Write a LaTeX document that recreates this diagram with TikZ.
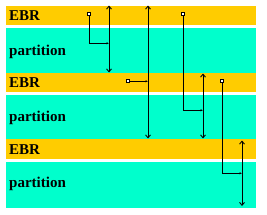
\documentclass[tikz,border=0pt]{standalone}
\usepackage{fontspec}
\setmainfont{Liberation Serif}
\usetikzlibrary{arrows.meta}
\definecolor{ebrc}{RGB}{255,204,0}
\definecolor{partc}{RGB}{0,255,204}
\tikzset{
  band/.style={anchor=north west, inner sep=0pt, minimum width=250pt},
  ebrband/.style={band, fill=ebrc, minimum height=19pt},
  partband/.style={band, fill=partc},
  lbl/.style={anchor=base west, inner sep=0pt, font=\fontsize{15}{15}\selectfont\bfseries},
  sq/.style={draw, line width=0.8pt, inner sep=0pt, minimum size=3pt, fill=white},
  link/.style={line width=0.9pt, -{Latex[length=2.5pt,width=2.5pt]}},
  ptr/.style={line width=0.9pt, {Straight Barb[length=3pt,width=5pt]}-{Straight Barb[length=3pt,width=5pt]}}
}
\begin{document}
\begin{tikzpicture}[x=1pt,y=-1pt]
\useasboundingbox (0,0) rectangle (267,214);
\fill[white] (0,0) rectangle (267,214);
% bands
\node[ebrband] (e1) at (6,6) {};
\node[partband, minimum height=45pt] (p1) at (6,28) {};
\node[ebrband] (e2) at (6,73) {};
\node[partband, minimum height=44pt] (p2) at (6,95) {};
\node[ebrband, minimum height=20pt] (e3) at (6,139) {};
\node[partband, minimum height=46pt] (p3) at (6,162) {};
% labels
\node[lbl] (t1) at (9,20) {EBR};
\node[lbl] (t2) at (9,55) {partition};
\node[lbl] (t3) at (9,87.3) {EBR};
\node[lbl] (t4) at (9,121.7) {partition};
\node[lbl] (t5) at (9,154.7) {EBR};
\node[lbl] (t6) at (9,187.7) {partition};
% pointer targets
\coordinate (a1t) at (109,5.5);
\coordinate (a1b) at (109,72.5);
\coordinate (a2t) at (148,5.5);
\coordinate (a2b) at (148,138.5);
\coordinate (a3t) at (203,73.5);
\coordinate (a3b) at (203,138.5);
\coordinate (a4t) at (242,140.5);
\coordinate (a4b) at (242,206);
\draw[ptr] (a1t) -- (a1b);
\draw[ptr] (a2t) -- (a2b);
\draw[ptr] (a3t) -- (a3b);
\draw[ptr] (a4t) -- (a4b);
% junctions
\coordinate (j1) at (109,43.3);
\coordinate (j2) at (148,81.3);
\coordinate (j3) at (203,110.3);
\coordinate (j4) at (242,173.3);
% sources
\node[sq] (s1) at (89.3,14.3) {};
\node[sq] (s2) at (128.3,81.3) {};
\node[sq] (s3) at (183.3,14.3) {};
\node[sq] (s4) at (222.3,81.3) {};
\draw[link] (s1.south) |- (j1);
\draw[link] (s2.east) -- (j2);
\draw[link] (s3.south) |- (j3);
\draw[link] (s4.south) |- (j4);
\end{tikzpicture}
\end{document}
